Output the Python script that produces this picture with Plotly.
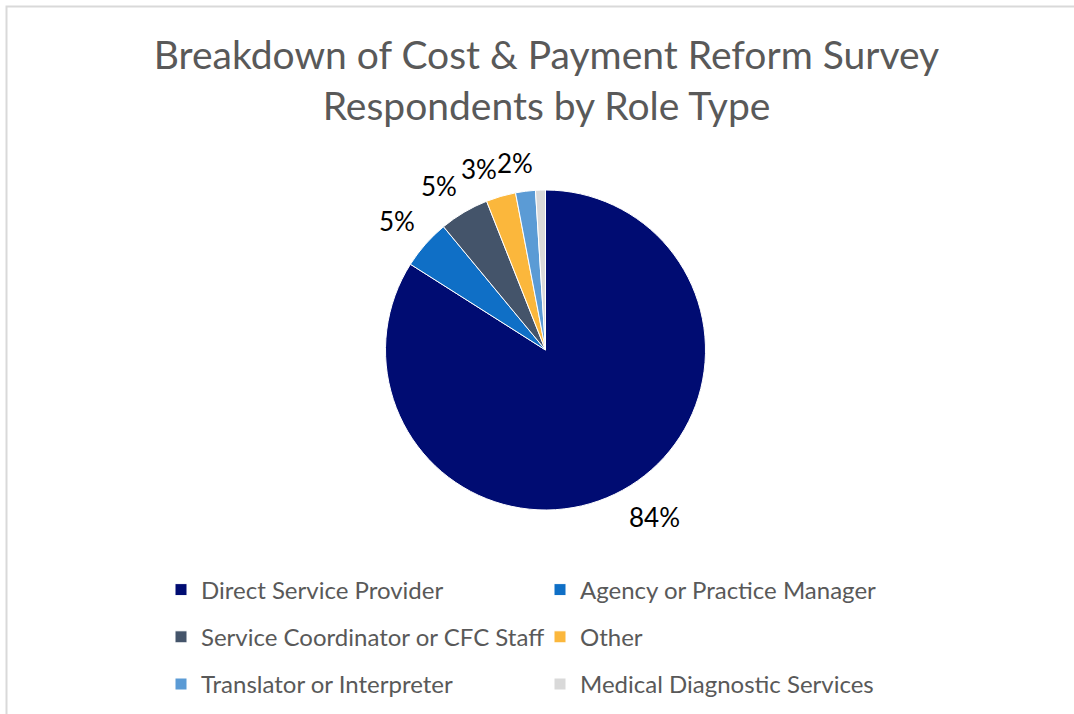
import numpy as np
import plotly.graph_objects as go

categories = [
    "Direct Service Provider",
    "Agency or Practice Manager",
    "Service Coordinator or CFC Staff",
    "Other",
    "Translator or Interpreter",
    "Medical Diagnostic Services",
]
values = [84, 5, 5, 3, 2, 1]
show_label = [True, True, True, True, True, False]

colors = ["#000C72", "#0F6FC6", "#44546A", "#FBB73C", "#5B9BD5", "#D9D9D9"]

W, H = 1074, 714
cx, cy, r = 545.5, 350, 160
label_gap = 14
label_size = 26
legend_text_size = 24
legend_row_size = 34  # sets legend row spacing

legend_labels = [
    f'<span style="font-size:{legend_text_size}px;baseline-shift:4px">{c}</span>' for c in categories
]

fig = go.Figure(
    go.Pie(
        labels=legend_labels,
        values=values,
        sort=False,
        direction="clockwise",
        rotation=0,
        marker=dict(colors=colors, line=dict(color="white", width=1)),
        textinfo="none",
        customdata=categories,
        hovertemplate="%{customdata}: %{percent}<extra></extra>",
        domain=dict(x=[(cx - r) / W, (cx + r) / W], y=[1 - (cy + r) / H, 1 - (cy - r) / H]),
    )
)

# data labels placed just outside the middle of each slice (derived from values)
vals = np.array(values, dtype=float)
frac = vals / vals.sum()
ends = np.cumsum(frac)
mids = (ends - frac / 2) * 2 * np.pi  # clockwise from 12 o'clock
annotations = []
for f, a, show in zip(frac, mids, show_label):
    if not show:
        continue
    txt = f"{round(f * 100):.0f}%"
    half_w = (0.58 * (len(txt) - 1) + 0.8) * label_size / 2
    half_h = 0.55 * label_size
    dx, up = np.sin(a), np.cos(a)
    px = cx + (r + label_gap) * dx
    py = cy - (r + label_gap) * up
    px += np.sign(dx) * half_w * min(1.0, abs(dx) / 0.25)
    py -= np.sign(up) * half_h * min(1.0, abs(up) / 0.25)
    annotations.append(
        dict(
            x=px / W,
            y=1 - py / H,
            xref="paper",
            yref="paper",
            text=txt,
            showarrow=False,
            xanchor="center",
            yanchor="middle",
            font=dict(family="Lato", size=label_size, color="#000000"),
        )
    )

fig.update_layout(
    width=W,
    height=H,
    margin=dict(l=0, r=0, t=0, b=0),
    paper_bgcolor="white",
    plot_bgcolor="white",
    title=dict(
        text="Breakdown of Cost & Payment Reform Survey<br>Respondents by Role Type",
        x=546.5 / W,
        xanchor="center",
        y=1 - 69 / H,
        yanchor="middle",
        font=dict(family="Lato", size=39, color="#595959"),
    ),
    legend=dict(
        orientation="h",
        x=161 / W,
        xanchor="left",
        y=1 - 637 / H,
        yanchor="middle",
        entrywidth=334,
        entrywidthmode="pixels",
        font=dict(family="Lato", size=legend_row_size, color="#595959"),
        traceorder="normal",
    ),
    showlegend=True,
    annotations=annotations,
    shapes=[
        dict(
            type="rect",
            xref="paper",
            yref="paper",
            x0=6.5 / W,
            x1=1.02,
            y0=-0.02,
            y1=1 - 6.5 / H,
            line=dict(color="#D9D9D9", width=2),
            fillcolor="rgba(0,0,0,0)",
            layer="below",
        )
    ],
)

fig.write_html("out.html")
